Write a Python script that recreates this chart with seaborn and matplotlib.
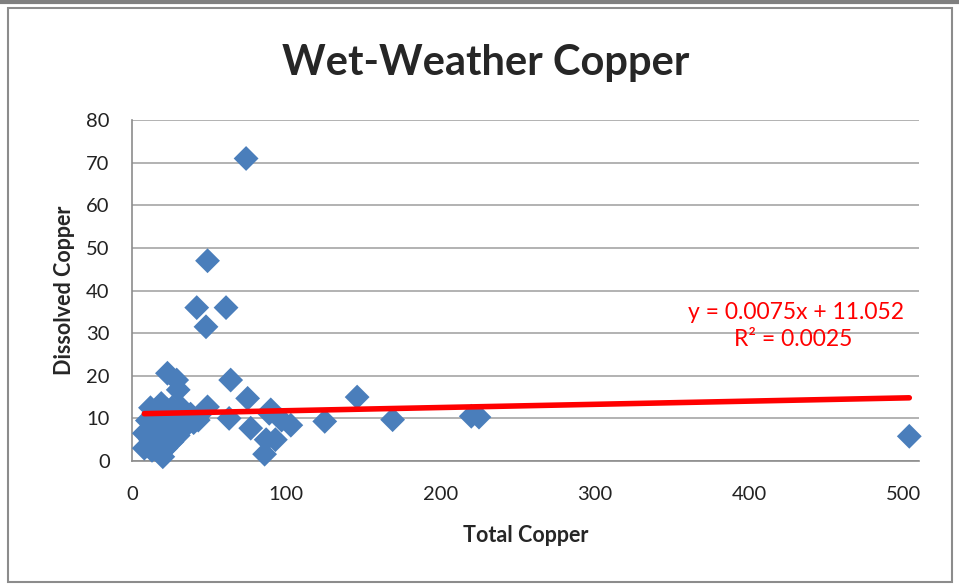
import seaborn as sns
import matplotlib
matplotlib.use("Agg")
import matplotlib.pyplot as plt
import numpy as np
import pandas as pd

# total vs dissolved copper
total_cu = [8, 8, 10, 12, 12, 13, 14, 15, 16, 17, 18, 19, 20, 20, 21, 22, 23, 24,
            25, 26, 27, 28, 30, 31, 32, 33, 35, 38, 40, 43, 10, 14, 18, 22, 26, 30,
            23, 29, 30, 42, 61, 48, 49, 74, 64, 75, 49, 63, 77, 87, 86, 89, 90, 93,
            97, 103, 125, 146, 169, 220, 225, 504]
dissolved_cu = [3, 6.5, 9.5, 12.5, 5, 2.5, 7, 10, 4, 11.5, 8, 13.5, 1, 5.5, 9, 3, 12, 6.5,
                10, 4.5, 8, 11, 6, 9.5, 12.5, 7.5, 10, 11, 9, 9.6, 7, 4.5, 2, 10.5, 12.5, 8,
                20.6, 19, 16.7, 36, 36, 31.5, 47, 71, 19, 14.7, 12.7, 10, 7.7, 5, 1.6, 11.2, 12, 5,
                9.6, 8.4, 9.3, 15, 9.7, 10.5, 10.3, 5.8]

slope = 0.0075
intercept = 11.052
r_squared = 0.0025

df = pd.DataFrame({"Total Copper": total_cu, "Dissolved Copper": dissolved_cu})

sns.set_style("white")
plt.rcParams['font.family'] = ['Lato', 'DejaVu Sans']

fig = plt.figure(figsize=(9.59, 5.86), dpi=100)
ax = fig.add_axes([0.1376, 0.2133, 0.8207, 0.5817])

sns.scatterplot(data=df, x="Total Copper", y="Dissolved Copper", marker="D",
                color="#4A7EBB", s=160, edgecolor="none", ax=ax, zorder=3, clip_on=False)

xs = np.array([min(total_cu), max(total_cu)])
ax.plot(xs, slope * xs + intercept, color="#FF0000", lw=4, solid_capstyle="round", zorder=4)

ax.set_xlim(0, 510.3)
ax.set_ylim(0, 80)
ax.set_xticks(np.arange(0, 501, 100))
ax.set_yticks(np.arange(0, 81, 10))
ax.yaxis.grid(True, color="#A6A6A6", lw=1.2)
ax.set_axisbelow(True)
for s in ["top", "right"]:
    ax.spines[s].set_visible(False)
for s in ["left", "bottom"]:
    ax.spines[s].set_color("#8C8C8C")
    ax.spines[s].set_linewidth(1.2)
ax.tick_params(axis="both", direction="out", length=6, width=1.2, color="#8C8C8C",
               labelsize=14.5, labelcolor="#222222", pad=12)
ax.tick_params(axis="y", pad=10)

ax.set_xlabel("Total Copper", fontsize=15.5, fontweight="bold", labelpad=16)
ax.set_ylabel("Dissolved Copper", fontsize=15.5, fontweight="bold", labelpad=8)
fig.text(0.506, 0.892, "Wet-Weather Copper", ha="center", va="center",
         fontsize=30, fontweight="bold")

ax.text(0.981, 0.435, "y = 0.0075x + 11.052", transform=ax.transAxes, ha="right",
        va="center", color="#FF0000", fontsize=16.5)
ax.text(0.915, 0.357, "R² = 0.0025", transform=ax.transAxes, ha="right",
        va="center", color="#FF0000", fontsize=16.5)

# chart frame
fig.patches.append(plt.Rectangle((0.008, 0.006), 0.985, 0.98, transform=fig.transFigure,
                                 fill=False, edgecolor="#8C8C8C", lw=1.5))
fig.add_artist(plt.Line2D([0, 1], [0.997, 0.997], transform=fig.transFigure,
                          color="#7F7F7F", lw=3))

plt.savefig("out.png", dpi=100)
